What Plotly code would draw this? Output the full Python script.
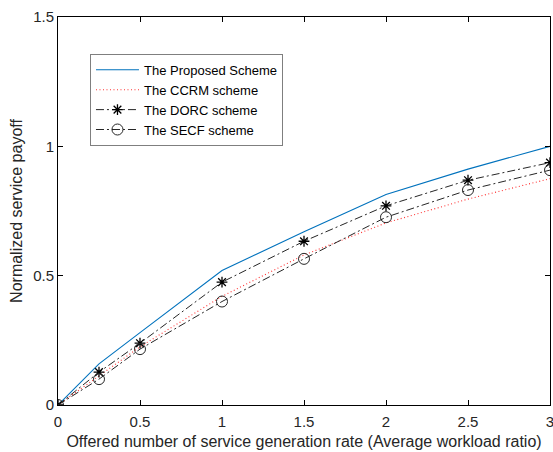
import plotly.graph_objects as go

x = [0, 0.25, 0.5, 1, 1.5, 2, 2.5, 3]
proposed = [0, 0.159, 0.28, 0.52, 0.67, 0.814, 0.912, 1.0]
ccrm = [0, 0.114, 0.225, 0.42, 0.58, 0.704, 0.796, 0.875]
dorc = [0, 0.127, 0.239, 0.475, 0.633, 0.77, 0.869, 0.937]
secf = [0, 0.10, 0.216, 0.40, 0.565, 0.726, 0.831, 0.908]
names = ["The Proposed Scheme", "The CCRM scheme", "The DORC scheme", "The SECF scheme"]
xticks = [0, 0.5, 1, 1.5, 2, 2.5, 3]
xticklabels = ["0", "0.5", "1", "1.5", "2", "2.5", "3"]
yticks = [0, 0.5, 1, 1.5]
yticklabels = ["0", "0.5", "1", "1.5"]

FONT = "Liberation Sans, Arial, sans-serif"

fig = go.Figure()
fig.add_trace(go.Scatter(x=x, y=proposed, name=names[0], mode="lines",
                         line=dict(color="#0072BD", width=1.1)))
fig.add_trace(go.Scatter(x=x, y=ccrm, name=names[1], mode="lines",
                         line=dict(color="#FF3030", width=1.1, dash="1px,2.5px")))
fig.add_trace(go.Scatter(x=x, y=dorc, name=names[2], mode="lines+markers",
                         line=dict(color="#262626", width=1, dash="8px,3px,2px,3px"),
                         marker=dict(symbol="asterisk-open", size=9, color="black",
                                     line=dict(color="black", width=1.3))))
fig.add_trace(go.Scatter(x=x, y=secf, name=names[3], mode="lines+markers",
                         line=dict(color="#262626", width=1, dash="8px,3px,2px,3px"),
                         marker=dict(symbol="circle-open", size=11, color="#262626",
                                     line=dict(color="#262626", width=1))))

axis_common = dict(showline=True, linecolor="black", linewidth=1, mirror="ticks",
                   ticks="inside", ticklen=5, tickcolor="black", showgrid=False,
                   zeroline=False, automargin=False, ticklabeloverflow="allow",
                   tickfont=dict(family=FONT, size=15, color="#262626"))

fig.update_xaxes(range=[0, 3], tickvals=xticks, ticktext=xticklabels, ticklabelstandoff=3,
                 title=dict(text="Offered number of service generation rate (Average workload ratio)",
                            font=dict(family=FONT, size=16, color="#262626"), standoff=6),
                 **axis_common)
fig.update_yaxes(range=[0, 1.5], tickvals=yticks, ticktext=yticklabels,
                 title=dict(text="Normalized service payoff",
                            font=dict(family=FONT, size=16, color="#262626"), standoff=6),
                 **axis_common)

fig.update_layout(
    width=553, height=452,
    margin=dict(l=58, r=3, t=17, b=47),
    paper_bgcolor="white", plot_bgcolor="white",
    showlegend=True,
    legend=dict(x=0.065, y=0.905, xanchor="left", yanchor="top",
                bordercolor="#7f7f7f", borderwidth=1, bgcolor="white",
                font=dict(family=FONT, size=13, color="black"),
                tracegroupgap=0, itemwidth=43),
)

fig.write_html("out.html", config={"displayModeBar": False},
               post_script="document.body.style.margin='0';document.body.style.overflow='hidden';")
